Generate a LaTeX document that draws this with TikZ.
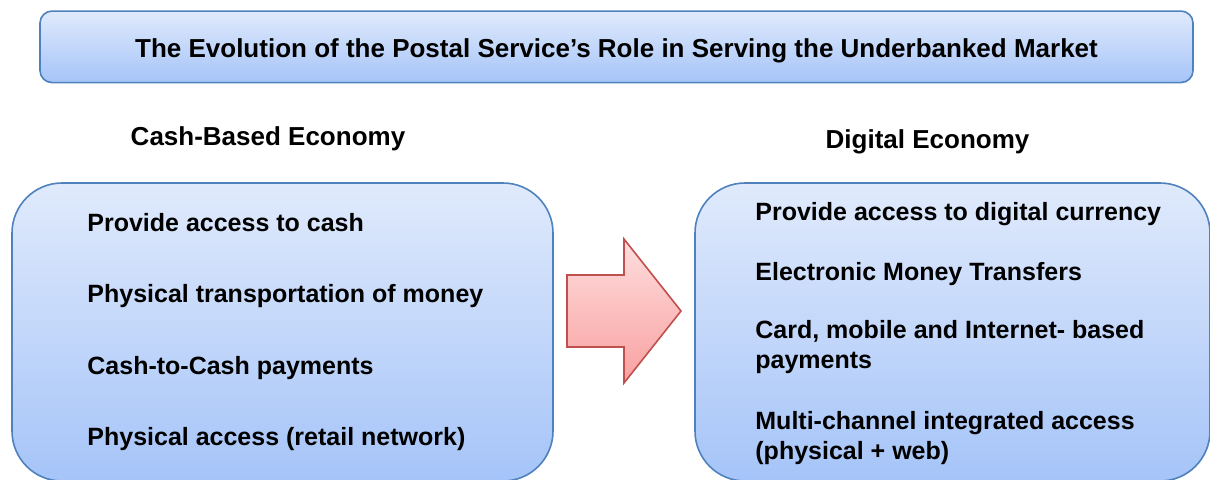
\documentclass[tikz,border=0pt]{standalone}
\usepackage{fontspec}
\setmainfont{Liberation Sans}

\definecolor{boxtop}{RGB}{224,234,252}
\definecolor{boxbot}{RGB}{165,196,248}
\definecolor{boxline}{RGB}{79,129,189}
\definecolor{arrtop}{RGB}{254,222,222}
\definecolor{arrbot}{RGB}{249,160,160}
\definecolor{arrline}{RGB}{192,80,77}

\begin{document}
\begin{tikzpicture}[x=0.5pt, y=-0.5pt,
    box/.style={draw=boxline, line width=0.8pt, top color=boxtop,
        bottom color=boxbot, rounded corners=25pt, inner sep=0pt},
    heading/.style={font=\bfseries\fontsize{13pt}{15.6pt}\selectfont,
        inner sep=0pt, anchor=base},
    item/.style={font=\bfseries\fontsize{12.5pt}{15pt}\selectfont,
        inner sep=0pt, anchor=base west, align=left}]

% 画面サイズ
\useasboundingbox (0,0) rectangle (1210,479);
\clip (0,0) rectangle (1210,479);

%========================
% タイトル
%========================
\node[box, rounded corners=6pt, minimum width=576.5pt, minimum height=35.75pt]
    (title) at (616.5,46.8) {};
\node[heading] (titletext) at (616.5,57.3)
    {The Evolution of the Postal Service’s Role in Serving the Underbanked Market};

%========================
% 見出し
%========================
\node[heading] (cashhead) at (268,145) {Cash-Based Economy};
\node[heading] (digihead) at (927.5,148) {Digital Economy};

%========================
% 左右のボックス
%========================
\node[box, minimum width=270.5pt, minimum height=149pt] (cashbox) at (282.5,332) {};
\node[box, minimum width=257.5pt, minimum height=149pt] (digibox) at (952.5,332) {};

% 現金経済
\node[item] (cash1) at (87,231) {Provide access to cash};
\node[item] (cash2) at (87,302) {Physical transportation of money};
\node[item] (cash3) at (87,374) {Cash-to-Cash payments};
\node[item] (cash4) at (87,445) {Physical access (retail network)};

% デジタル経済 (複数行は最終行の基線)
\node[item] (digi1) at (755,220.5) {Provide access to digital currency};
\node[item] (digi2) at (755,280.5) {Electronic Money Transfers};
\node[item] (digi3) at (755,368.5) {Card, mobile and Internet- based\\payments};
\node[item] (digi4) at (755,459.5) {Multi-channel integrated access\\(physical + web)};

%========================
% 矢印
%========================
\draw[draw=arrline, line width=0.8pt, top color=arrtop, bottom color=arrbot]
    (567,275) -- (624,275) -- (624,239) -- (681,311) -- (624,383)
    -- (624,347) -- (567,347) -- cycle;

\end{tikzpicture}
\end{document}
